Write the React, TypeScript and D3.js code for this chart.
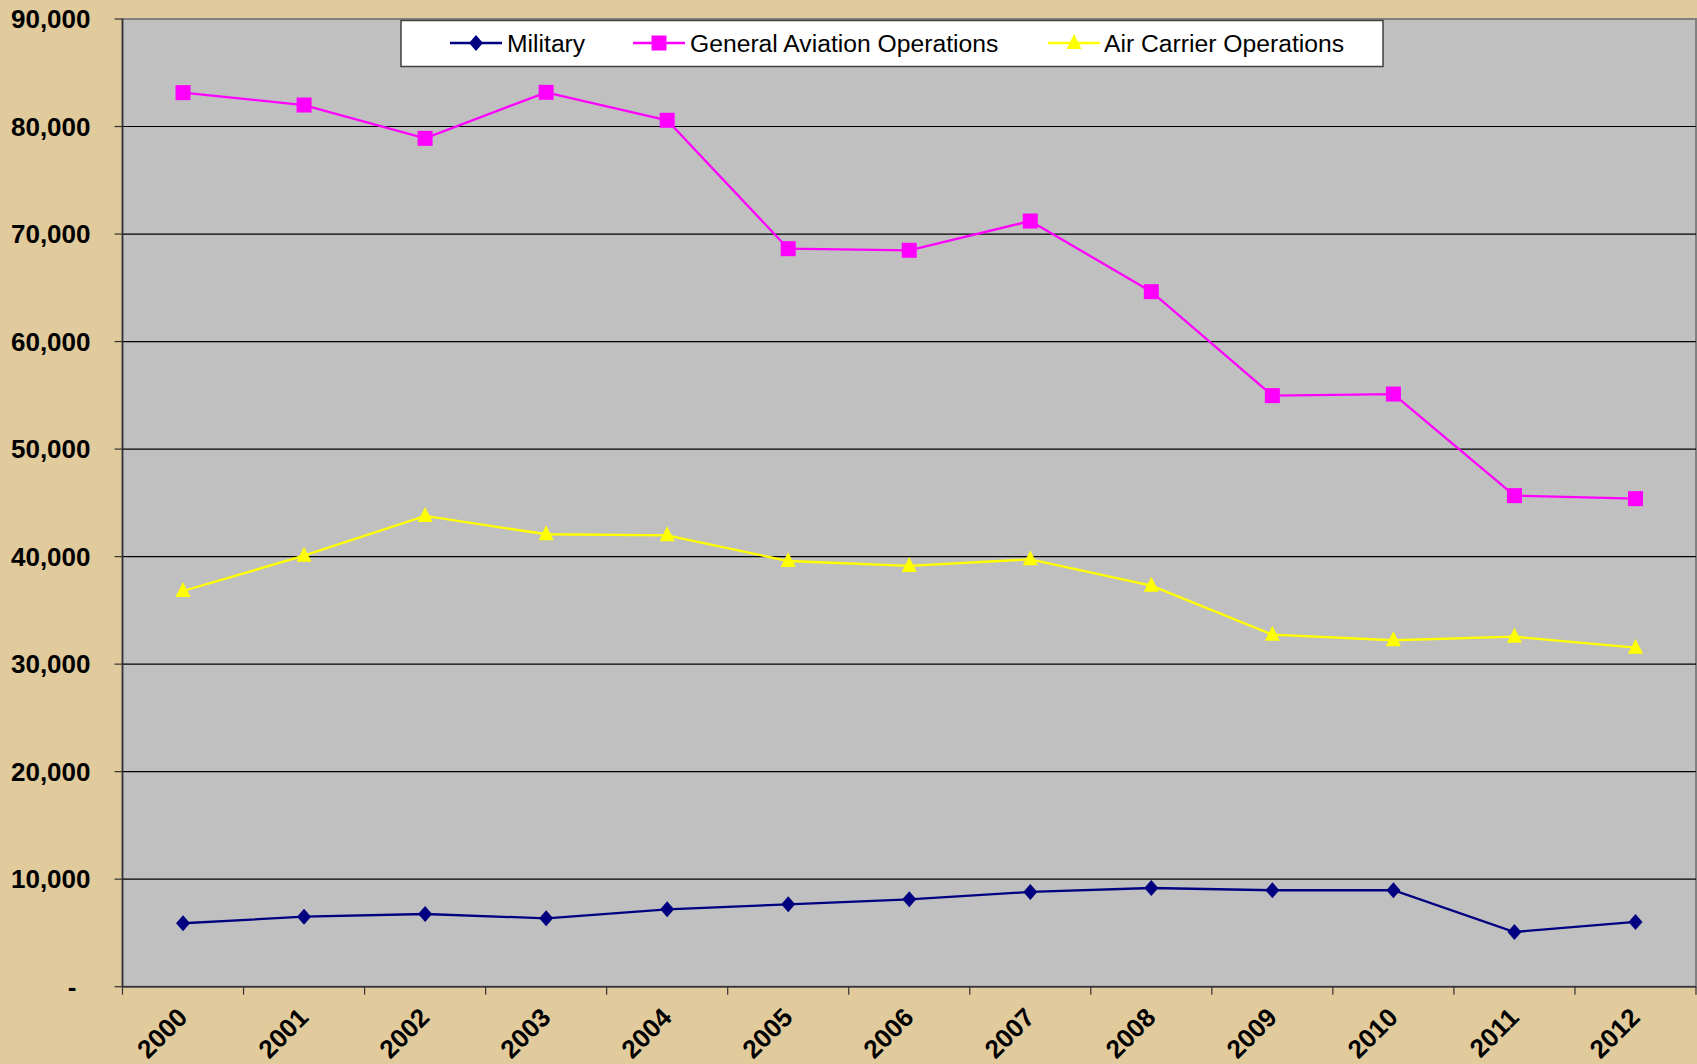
import React from "react";
import * as d3 from "d3";

const years = ["2000","2001","2002","2003","2004","2005","2006","2007","2008","2009","2010","2011","2012"];
const military = [5900, 6510, 6760, 6360, 7200, 7660, 8130, 8810, 9180, 8970, 8970, 5090, 6020];
const generalAviation = [83150, 82000, 78900, 83180, 80580, 68640, 68490, 71210, 64640, 54970, 55120, 45670, 45390];
const airCarrier = [36800, 40090, 43780, 42080, 41980, 39590, 39130, 39750, 37300, 32740, 32220, 32550, 31530];
const yTicks = [0, 10000, 20000, 30000, 40000, 50000, 60000, 70000, 80000, 90000];
const seriesNames = ["Military", "General Aviation Operations", "Air Carrier Operations"];

const W = 1697, H = 1064;
const L = 122.5, R = 1696, T = 19, B = 986.7;

function Marker({ kind, x, y, color }: { kind: string; x: number; y: number; color: string }) {
  if (kind === "square") return <rect x={x - 7.5} y={y - 7.5} width={15} height={15} fill={color} />;
  if (kind === "diamond") return <path d={`M${x},${y - 8}L${x + 7},${y}L${x},${y + 8}L${x - 7},${y}Z`} fill={color} />;
  return <path d={`M${x},${y - 9}L${x + 7.5},${y + 6}L${x - 7.5},${y + 6}Z`} fill={color} />;
}

export default function App() {
  const x = d3.scaleBand<string>().domain(years).range([L, R]);
  const y = d3.scaleLinear().domain([0, 90000]).range([B, T]);
  const cx = (i: number) => (x(years[i]) as number) + x.bandwidth() / 2;
  const line = d3.line<number>().x((_, i) => cx(i)).y(v => y(v));
  const series = [
    { name: seriesNames[0], data: military, color: "#000080", kind: "diamond" },
    { name: seriesNames[1], data: generalAviation, color: "#FF00FF", kind: "square" },
    { name: seriesNames[2], data: airCarrier, color: "#FFFF00", kind: "triangle" },
  ];
  const fmt = (v: number) => (v === 0 ? "-" : d3.format(",")(v));
  const legendItems = [
    { lx: 450, tx: 507 },
    { lx: 633, tx: 690 },
    { lx: 1048, tx: 1104 },
  ];
  const boundaries = d3.range(years.length + 1).map(i => L + i * x.step());
  return (
    <div style={{ position: "fixed", left: 0, top: 0 }}>
      <svg width={W} height={H} style={{ display: "block" }} fontFamily="Arial, 'Liberation Sans', sans-serif">
        <rect x={0} y={0} width={W} height={H} fill="#E1CB9C" />
        <rect x={L} y={T} width={R - L} height={B - T} fill="#C0C0C0" stroke="#808080" strokeWidth={2} />
        {yTicks.filter(t => t > 0 && t < 90000).map(t => (
          <line key={t} x1={L} x2={R} y1={y(t)} y2={y(t)} stroke="#000" strokeWidth={1.2} />
        ))}
        <line x1={L} x2={L} y1={T} y2={B} stroke="#333" strokeWidth={1.5} />
        <line x1={L} x2={R} y1={B} y2={B} stroke="#333" strokeWidth={1.5} />
        {yTicks.map(t => (
          <g key={t}>
            <line x1={L - 8} x2={L} y1={y(t)} y2={y(t)} stroke="#333" strokeWidth={1.2} />
            <text x={t === 0 ? 76.5 : 90.5} y={y(t)} dy="0.35em" textAnchor="end" fontSize={26} fontWeight="bold" fill="#000">
              {fmt(t)}
            </text>
          </g>
        ))}
        {boundaries.map((b, i) => (
          <line key={i} x1={b} x2={b} y1={B} y2={B + 8} stroke="#333" strokeWidth={1.2} />
        ))}
        {years.map((yr, i) => (
          <text key={yr} transform={`translate(${cx(i) + 6},${1019}) rotate(-45)`} textAnchor="end" fontSize={26} fontWeight="bold" fill="#000">
            {yr}
          </text>
        ))}
        {series.map(s => (
          <g key={s.name}>
            <path d={line(s.data) || ""} fill="none" stroke={s.color} strokeWidth={2.3} />
            {s.data.map((v, i) => (
              <Marker key={i} kind={s.kind} x={cx(i)} y={y(v)} color={s.color} />
            ))}
          </g>
        ))}
        <rect x={401} y={20.5} width={982} height={46} fill="#FFFFFF" stroke="#404040" strokeWidth={1.5} />
        {series.map((s, i) => (
          <g key={s.name}>
            <line x1={legendItems[i].lx} x2={legendItems[i].lx + 52} y1={43} y2={43} stroke={s.color} strokeWidth={2.3} />
            <Marker kind={s.kind} x={legendItems[i].lx + 26} y={43} color={s.color} />
            <text x={legendItems[i].tx} y={43} dy="0.35em" fontSize={24.7} fill="#000">{s.name}</text>
          </g>
        ))}
      </svg>
    </div>
  );
}
